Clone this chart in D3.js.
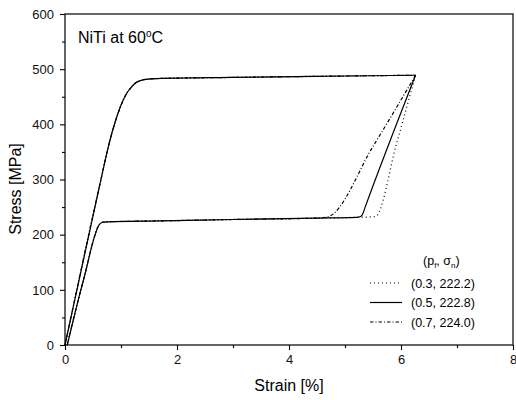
<html>
<script src="https://d3js.org/d3.v7.min.js"></script>
<body style="margin:0;background:#fff">
</body>
<script>
    // tick labels
    let xTicks = [0, 2, 4, 6, 8];
    let yTicks = [0, 100, 200, 300, 400, 500, 600];

    // loading branch (shared by all three runs)
    let loadStrain = [0, 0.62, 0.80, 0.93, 1.04, 1.12, 1.19, 1.26, 1.34, 1.45, 1.64, 3.0, 4.5, 6.26];
    let loadStress = [0, 290, 370, 415, 444, 459, 468, 475, 479, 481.5, 483, 485, 487, 489];

    // lower plateau on unloading (shared part)
    let lowerStrain = [0.04, 0.33, 0.62, 0.67, 0.75, 1.7, 3.0, 4.5, 5.2];
    let lowerStress = [0, 118, 219, 222.5, 223.3, 225, 227.5, 230, 231.5];

    // unloading branches, one per run
    let labels = ["(0.3, 222.2)", "(0.5, 222.8)", "(0.7, 224.0)"];
    let unloadStrain03 = [5.54, 5.92, 6.26];
    let unloadStress03 = [232.6, 365, 489];
    let unloadStrain05 = [5.27, 5.31, 5.36, 6.26];
    let unloadStress05 = [232.5, 236, 250, 489];
    let unloadStrain07 = [4.70, 5.50, 6.26];
    let unloadStress07 = [232.6, 360, 489];

    let dashes = ["1,3", null, "3.5,2,1,2"];

    let W = 516, H = 400;
    let mLeft = 65, mRight = 513, mTop = 14, mBottom = 345;
    let font = "'Liberation Sans', Arial, sans-serif";

    let svg = d3.select("body").append("svg")
        .attr("width", W)
        .attr("height", H)
        .style("font-family", font);

    let x = d3.scaleLinear().domain([0, 8]).range([mLeft, mRight]);
    let y = d3.scaleLinear().domain([0, 600]).range([mBottom, mTop]);

    // frame
    svg.append("rect")
        .attr("x", mLeft).attr("y", mTop)
        .attr("width", mRight - mLeft).attr("height", mBottom - mTop)
        .attr("fill", "none").attr("stroke", "#000").attr("stroke-width", 1.2);

    // x axis
    let xAxis = svg.append("g").attr("transform", "translate(0," + mBottom + ")")
        .call(d3.axisBottom(x).tickValues(xTicks).tickSize(5).tickFormat(d3.format("d")));
    svg.append("g").attr("transform", "translate(0," + mBottom + ")")
        .call(d3.axisBottom(x).tickValues([1, 3, 5, 7]).tickSize(3).tickFormat(""));

    // y axis
    let yAxis = svg.append("g").attr("transform", "translate(" + mLeft + ",0)")
        .call(d3.axisLeft(y).tickValues(yTicks).tickSize(5).tickFormat(d3.format("d")));
    svg.append("g").attr("transform", "translate(" + mLeft + ",0)")
        .call(d3.axisLeft(y).tickValues([50, 150, 250, 350, 450, 550]).tickSize(3).tickFormat(""));

    svg.selectAll(".domain").remove();
    svg.selectAll(".tick line").attr("stroke", "#000").attr("stroke-width", 1.1);
    svg.selectAll(".tick text")
        .attr("fill", "#111")
        .style("font-family", font)
        .style("font-size", "13px");
    xAxis.selectAll(".tick text").attr("y", 10);
    yAxis.selectAll(".tick text").attr("x", -11);

    // axis titles
    svg.append("text")
        .attr("x", (mLeft + mRight) / 2).attr("y", 391)
        .attr("text-anchor", "middle")
        .style("font-size", "16px")
        .text("Strain [%]");
    svg.append("text")
        .attr("transform", "translate(21,189) rotate(-90)")
        .attr("text-anchor", "middle")
        .style("font-size", "16px")
        .text("Stress [MPa]");

    // annotation
    let note = svg.append("text")
        .attr("x", 78).attr("y", 43)
        .style("font-size", "16px");
    note.append("tspan").text("NiTi at 60");
    note.append("tspan").attr("dy", -6).style("font-size", "10px").text("o");
    note.append("tspan").attr("dy", 6).text("C");

    // curves
    let line = d3.line()
        .x(d => x(d[0]))
        .y(d => y(d[1]))
        .curve(d3.curveMonotoneX);

    function zip(a, b) {
        return a.map((v, i) => [v, b[i]]);
    }

    let loading = zip(loadStrain, loadStress);
    let lower = zip(lowerStrain, lowerStress);
    let unloads = [
        zip(unloadStrain03, unloadStress03),
        zip(unloadStrain05, unloadStress05),
        zip(unloadStrain07, unloadStress07)
    ];

    let order = [0, 2, 1];
    order.forEach(i => {
        let u = unloads[i];
        let pts = lower.filter(p => p[0] < u[0][0]).concat(u);
        [loading, pts].forEach(p => {
            svg.append("path")
                .datum(p)
                .attr("d", line)
                .attr("fill", "none")
                .attr("stroke", "#000")
                .attr("stroke-width", 1.2)
                .attr("stroke-dasharray", dashes[i]);
        });
    });

    // legend
    let lt = svg.append("text")
        .attr("x", 423).attr("y", 265)
        .style("font-size", "12.5px");
    lt.append("tspan").text("(p");
    lt.append("tspan").attr("dy", 3).style("font-size", "8px").text("f");
    lt.append("tspan").attr("dy", -3).text(", σ");
    lt.append("tspan").attr("dy", 3).style("font-size", "8px").text("n");
    lt.append("tspan").attr("dy", -3).text(")");

    labels.forEach((lab, i) => {
        let ly = 283 + i * 19.5;
        svg.append("line")
            .attr("x1", 370).attr("x2", 402)
            .attr("y1", ly).attr("y2", ly)
            .attr("stroke", "#000")
            .attr("stroke-width", 1.2)
            .attr("stroke-dasharray", dashes[i]);
        svg.append("text")
            .attr("x", 411).attr("y", ly + 4.5)
            .style("font-size", "12.5px")
            .text(lab);
    });
</script>
</html>
